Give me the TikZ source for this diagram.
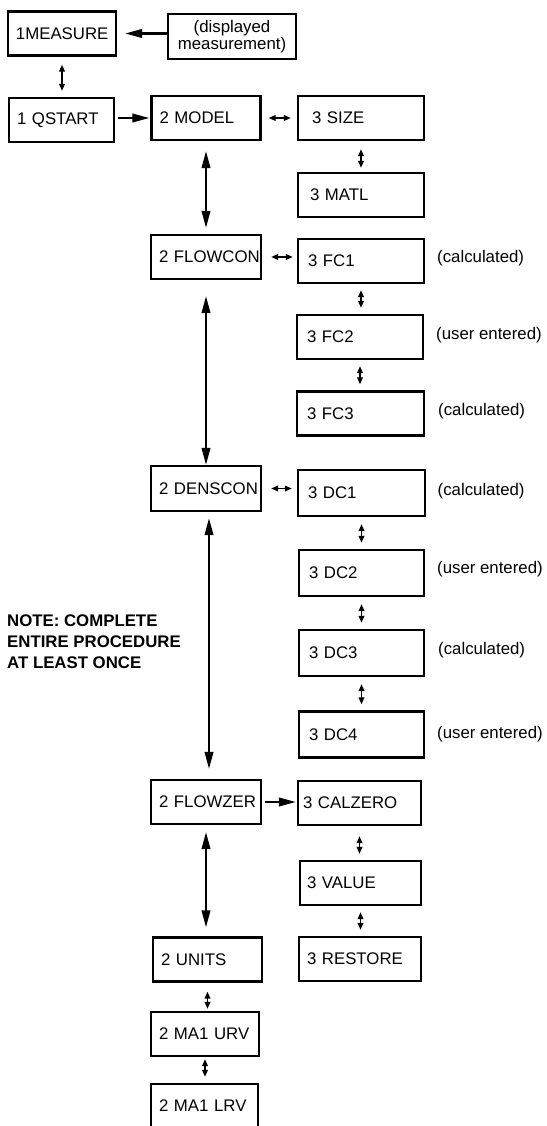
\documentclass[tikz,border=0pt]{standalone}
\usepackage{fontspec}
\setmainfont{Liberation Sans}
\usepackage{tikz}
\usetikzlibrary{arrows,arrows.meta,shapes,positioning}
\newcommand{\boxfont}{\fontsize{16.8}{17}\selectfont\hyphenpenalty=10000\exhyphenpenalty=10000}
\newcommand{\notefont}{\fontsize{16.8}{21}\selectfont\bfseries}
\tikzstyle{menubox} = [rectangle, draw, line width=2.2pt, minimum height=44pt, inner xsep=8pt, align=left, font=\boxfont]
\tikzstyle{subbox} = [menubox, inner xsep=10pt]
\tikzstyle{remark} = [anchor=west, inner sep=0pt, font=\boxfont]
\tikzstyle{bigarrow} = [line width=2.2pt, ->, >={Triangle[length=17pt,width=8.5pt]}]
\tikzstyle{bigdouble} = [bigarrow, <->]
\tikzstyle{smallarrow} = [line width=1.8pt, <->, >={Triangle[length=7pt,width=5.5pt]}]

\begin{document}
\begin{tikzpicture}[x=1pt, y=-1pt]
\useasboundingbox (0,0) rectangle (546,1126);

% Top level
\node[menubox, text width=92pt] (measure) at (62,33.5) {1MEASURE};
\node[menubox, text width=112pt, align=center, minimum height=45pt] (displayed) at (232,36.5) {(displayed\\measurement)};
\node[menubox, text width=89pt] (qstart) at (61.5,120) {1~QSTART};

% Second level
\node[menubox, text width=93pt] (model) at (206,118) {2~MODEL};
\node[menubox, text width=94pt] (flowcon) at (206,257) {2~FLOWCON};
\node[menubox, text width=94pt, minimum height=45pt] (denscon) at (206,488.5) {2~DENSCON};
\node[menubox, text width=94pt] (flowzer) at (206,802) {2~FLOWZER};
\node[menubox, text width=93pt] (units) at (207.5,959.5) {2~UNITS};
\node[menubox, text width=92pt] (urv) at (205,1034) {2~MA1~URV};
\node[menubox, text width=91pt] (lrv) at (204.5,1106) {2~MA1~LRV};

% Third level
\node[subbox, text width=106pt] (size) at (361,118) {\hspace{4pt}3~SIZE};
\node[subbox, text width=106pt] (matl) at (361,195) {\hspace{2pt}3~MATL};
\node[subbox, text width=106pt] (fc1) at (361,261) {3~FC1};
\node[subbox, text width=106pt] (fc2) at (360,337) {3~FC2};
\node[subbox, text width=107pt] (fc3) at (360.5,413.5) {3~FC3};
\node[subbox, text width=107pt, minimum height=46pt] (dc1) at (361.5,493) {3~DC1};
\node[subbox, text width=105pt, minimum height=46pt] (dc2) at (361.5,573) {3~DC2};
\node[subbox, text width=105pt, minimum height=46pt] (dc3) at (361.5,653) {3~DC3};
\node[subbox, text width=105pt, minimum height=46pt] (dc4) at (361.5,734.5) {3~DC4};
\node[subbox, inner xsep=5pt, text width=113pt] (calzero) at (359.5,803) {3~CALZERO};
\node[subbox, inner xsep=7pt, text width=107pt] (value) at (360.5,883) {3~VALUE};
\node[subbox, inner xsep=8pt, text width=106pt] (restore) at (360,959) {3~RESTORE};

% Remarks
\node[remark] (fc1note) at (437,258) {(calculated)};
\node[remark] (fc2note) at (436,335) {(user entered)};
\node[remark] (fc3note) at (438,411) {(calculated)};
\node[remark] (dc1note) at (437.5,491) {(calculated)};
\node[remark] (dc2note) at (437,569) {(user entered)};
\node[remark] (dc3note) at (438,650) {(calculated)};
\node[remark] (dc4note) at (437,734) {(user entered)};
\node[anchor=north west, inner sep=0pt, align=left, font=\notefont] (note) at (7,615) {NOTE: COMPLETE\\ENTIRE PROCEDURE\\AT LEAST ONCE};

% Arrows
\draw[bigarrow, shorten >=8pt] (displayed.west |- measure) -- (measure);
\draw[smallarrow, shorten <=8pt, shorten >=6pt] (measure.south) -- (measure.south |- qstart.north);
\draw[bigarrow, shorten <=3pt, shorten >=1pt] (qstart.east |- model) -- (model.west);
\draw[smallarrow, shorten <=7pt, shorten >=6pt] (model.east) -- (model.east -| size.west);
\draw[smallarrow, shorten <=8pt, shorten >=4pt] (size.south) -- (size.south |- matl.north);
\draw[bigdouble, shorten <=10pt, shorten >=6pt] (model.south) -- (model.south |- flowcon.north);
\draw[smallarrow, shorten <=9pt, shorten >=4pt] (flowcon.east) -- (flowcon.east -| fc1.west);
\draw[smallarrow, shorten <=6pt, shorten >=6pt] (fc1.south) -- (fc1.south |- fc2.north);
\draw[smallarrow, shorten <=6pt, shorten >=6pt] (fc2.south) -- (fc2.south |- fc3.north);
\draw[bigdouble, shorten <=16pt] (flowcon.south) -- (flowcon.south |- denscon.north);
\draw[smallarrow, shorten <=9pt, shorten >=5pt] (denscon.east) -- (denscon.east -| dc1.west);
\draw[smallarrow, shorten <=7pt, shorten >=6pt] (dc1.south) -- (dc1.south |- dc2.north);
\draw[smallarrow, shorten <=7pt, shorten >=6pt] (dc2.south) -- (dc2.south |- dc3.north);
\draw[smallarrow, shorten <=7pt, shorten >=6pt] (dc3.south) -- (dc3.south |- dc4.north);
\draw[bigdouble, shorten <=6pt, shorten >=10pt] ([xshift=3pt]denscon.south) -- ([xshift=3pt]denscon.south |- flowzer.north);
\draw[bigarrow, shorten <=3pt, shorten >=1pt] (flowzer.east) -- (flowzer.east -| calzero.west);
\draw[smallarrow, shorten <=10pt, shorten >=6pt] (calzero.south) -- (calzero.south |- value.north);
\draw[smallarrow, shorten <=6pt, shorten >=6pt] (value.south) -- (value.south |- restore.north);
\draw[bigdouble, shorten <=7pt, shorten >=9pt] (flowzer.south) -- (flowzer.south |- units.north);
\draw[smallarrow, shorten <=9pt, shorten >=2pt] (units.south) -- (units.south |- urv.north);
\draw[smallarrow, shorten <=2pt, shorten >=6pt] (urv.south) -- (urv.south |- lrv.north);
\end{tikzpicture}
\end{document}
